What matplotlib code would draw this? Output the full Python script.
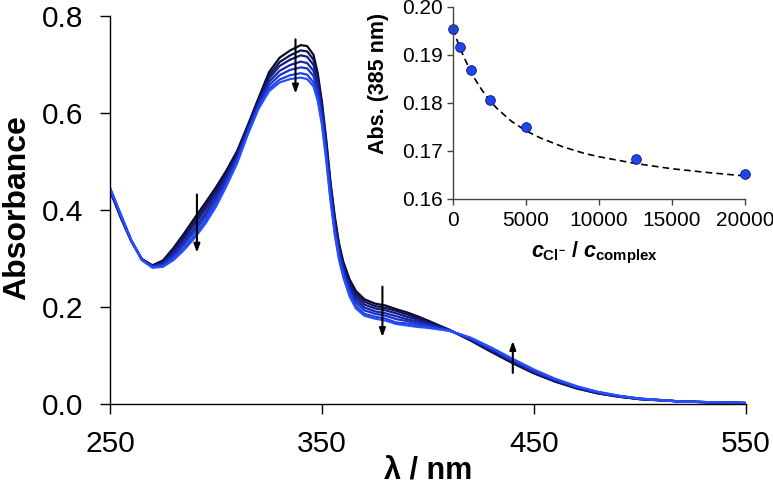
import matplotlib
matplotlib.use("Agg")
import matplotlib.pyplot as plt

plt.rcParams['font.family'] = ['Liberation Sans', 'DejaVu Sans']
plt.rcParams['mathtext.fontset'] = 'custom'
plt.rcParams['mathtext.rm'] = 'Liberation Sans:bold'
plt.rcParams['mathtext.it'] = 'Liberation Sans:bold:italic'
plt.rcParams['mathtext.bf'] = 'Liberation Sans:bold'

# ---------------- data ----------------
wavelength = [250, 255, 260, 265, 270, 275, 280, 285, 290, 295, 300, 305, 310, 315,
              320, 325, 330, 335, 340, 343, 346, 348, 350, 352, 354, 356, 358, 360,
              363, 366, 370, 375, 380, 385, 390, 395, 400, 410, 420, 430, 440, 450,
              460, 470, 480, 490, 500, 520, 550]

spec0 = [0.440, 0.385, 0.336, 0.299, 0.286, 0.296, 0.322, 0.352, 0.384, 0.415, 0.447, 0.482,
         0.522, 0.575, 0.630, 0.684, 0.714, 0.729, 0.740, 0.738, 0.720, 0.682, 0.622, 0.545,
         0.458, 0.388, 0.332, 0.294, 0.257, 0.233, 0.216, 0.207, 0.203, 0.1955, 0.189, 0.181,
         0.172, 0.153, 0.131, 0.107, 0.084, 0.063, 0.046, 0.032, 0.022, 0.015, 0.010, 0.005,
         0.002]
spec1 = [0.441, 0.386, 0.336, 0.299, 0.285, 0.294, 0.318, 0.347, 0.377, 0.408, 0.441, 0.477,
         0.518, 0.572, 0.626, 0.677, 0.705, 0.719, 0.729, 0.727, 0.710, 0.673, 0.614, 0.538,
         0.452, 0.382, 0.327, 0.289, 0.251, 0.227, 0.211, 0.202, 0.198, 0.192, 0.185, 0.177,
         0.170, 0.153, 0.132, 0.108, 0.085, 0.064, 0.047, 0.033, 0.022, 0.015, 0.010, 0.005,
         0.002]
spec2 = [0.442, 0.387, 0.337, 0.298, 0.284, 0.292, 0.314, 0.341, 0.371, 0.401, 0.434, 0.472,
         0.514, 0.569, 0.623, 0.671, 0.697, 0.710, 0.719, 0.716, 0.699, 0.664, 0.607, 0.531,
         0.446, 0.376, 0.321, 0.284, 0.246, 0.221, 0.205, 0.197, 0.193, 0.187, 0.180, 0.174,
         0.167, 0.152, 0.133, 0.110, 0.087, 0.066, 0.048, 0.034, 0.023, 0.016, 0.010, 0.005,
         0.002]
spec3 = [0.443, 0.389, 0.337, 0.298, 0.283, 0.289, 0.309, 0.335, 0.363, 0.393, 0.427, 0.466,
         0.509, 0.565, 0.619, 0.664, 0.687, 0.699, 0.706, 0.703, 0.687, 0.653, 0.598, 0.523,
         0.439, 0.369, 0.315, 0.278, 0.239, 0.215, 0.199, 0.191, 0.187, 0.181, 0.175, 0.170,
         0.164, 0.152, 0.134, 0.112, 0.089, 0.067, 0.049, 0.035, 0.024, 0.016, 0.011, 0.005,
         0.002]
spec4 = [0.444, 0.390, 0.337, 0.298, 0.283, 0.287, 0.305, 0.329, 0.356, 0.386, 0.420, 0.460,
         0.505, 0.562, 0.615, 0.657, 0.678, 0.689, 0.694, 0.692, 0.676, 0.643, 0.590, 0.516,
         0.432, 0.362, 0.309, 0.272, 0.233, 0.209, 0.193, 0.186, 0.182, 0.175, 0.171, 0.166,
         0.162, 0.152, 0.135, 0.113, 0.090, 0.068, 0.050, 0.035, 0.024, 0.016, 0.011, 0.005,
         0.002]
spec5 = [0.445, 0.391, 0.338, 0.297, 0.282, 0.285, 0.300, 0.322, 0.348, 0.378, 0.412, 0.454,
         0.500, 0.558, 0.611, 0.650, 0.669, 0.678, 0.682, 0.679, 0.663, 0.632, 0.581, 0.508,
         0.425, 0.355, 0.302, 0.266, 0.227, 0.202, 0.186, 0.180, 0.176, 0.168, 0.166, 0.162,
         0.159, 0.151, 0.136, 0.115, 0.092, 0.070, 0.051, 0.036, 0.025, 0.017, 0.011, 0.005,
         0.002]
spec6 = [0.446, 0.392, 0.338, 0.297, 0.281, 0.283, 0.297, 0.318, 0.343, 0.372, 0.407, 0.450,
         0.497, 0.556, 0.608, 0.645, 0.663, 0.670, 0.673, 0.670, 0.655, 0.625, 0.575, 0.502,
         0.420, 0.350, 0.298, 0.262, 0.222, 0.197, 0.182, 0.176, 0.172, 0.165, 0.162, 0.159,
         0.157, 0.151, 0.137, 0.116, 0.093, 0.071, 0.052, 0.037, 0.025, 0.017, 0.011, 0.005,
         0.002]
spectra = [spec0, spec1, spec2, spec3, spec4, spec5, spec6]
spec_colors = ['#0a0a26', '#0f1458', '#131d80', '#1727a6', '#1b33c8', '#1f40e6', '#2650ff']

ratio = [0, 500, 1250, 2500, 5000, 12500, 20000]
abs385 = [0.1954, 0.1917, 0.1869, 0.1806, 0.1751, 0.1684, 0.1652]

fit_x = [0, 250, 500, 1000, 1500, 2000, 2500, 3000, 4000, 5000, 6000, 7500, 9000, 10000,
         12500, 15000, 17500, 20000]
fit_y = [0.1955, 0.1933, 0.1913, 0.1879, 0.1850, 0.1826, 0.1806, 0.1789, 0.1762, 0.1742,
         0.1727, 0.1709, 0.1695, 0.1688, 0.1674, 0.1663, 0.1655, 0.1648]

main_xticks = [250, 350, 450, 550]
main_yticks = [0.0, 0.2, 0.4, 0.6, 0.8]
inset_xticks = [0, 5000, 10000, 15000, 20000]
inset_yticks = [0.16, 0.17, 0.18, 0.19, 0.20]

# arrows: (x, y_start, y_end)
arrows = [(291, 0.432, 0.312), (337.5, 0.752, 0.640), (378.5, 0.242, 0.138), (440, 0.064, 0.130)]

# ---------------- figure ----------------
fig = plt.figure(figsize=(7.73, 4.92), dpi=100)
ax = fig.add_axes([110/773, 88/492, 636/773, 388/492])

for s, c in zip(spectra, spec_colors):
    ax.plot(wavelength, s, color=c, lw=1.6, solid_joinstyle='round')

for x, y0, y1 in arrows:
    ax.annotate('', xy=(x, y1), xytext=(x, y0),
                arrowprops=dict(arrowstyle='-|>,head_length=0.5,head_width=0.18',
                                color='black', lw=1.5, shrinkA=0, shrinkB=0))

ax.set_xlim(250, 550)
ax.set_ylim(0, 0.8)
ax.set_xticks(main_xticks)
ax.set_yticks(main_yticks)
ax.set_yticklabels([f'{v:.1f}' for v in main_yticks])
for side in ('top', 'right'):
    ax.spines[side].set_visible(False)
for side in ('left', 'bottom'):
    ax.spines[side].set_linewidth(1.0)
ax.tick_params(direction='out', length=7, width=1.0, labelsize=21.5, pad=12)
ax.set_xlabel('λ / nm', fontsize=22, fontweight='bold')
ax.set_ylabel('Absorbance', fontsize=23, fontweight='bold')
ax.xaxis.set_label_coords(0.5, -0.135)
ax.yaxis.set_label_coords(-0.122, 0.507)

# inset
ins = fig.add_axes([453/773, 293/492, 292/773, 192/492])
ins.plot(fit_x, fit_y, color='black', lw=1.2, ls=(0, (4, 2.5)))
ins.plot(ratio, abs385, 'o', color='#2244ee', mec='#0a1a7a', mew=0.6, ms=7, clip_on=False)
ins.set_xlim(0, 20000)
ins.set_ylim(0.16, 0.20)
ins.set_xticks(inset_xticks)
ins.set_yticks(inset_yticks)
ins.set_yticklabels([f'{v:.2f}' for v in inset_yticks])
ins.patch.set_alpha(0)
for side in ('top', 'right'):
    ins.spines[side].set_visible(False)
for side in ('left', 'bottom'):
    ins.spines[side].set_color('#444444')
    ins.spines[side].set_linewidth(1.0)
ins.tick_params(direction='out', length=4, width=1.0, color='#444444', labelsize=15)
ins.tick_params(axis='x', pad=5)
ins.tick_params(axis='y', pad=3)
ins.set_xlabel(r'$c_{\mathrm{Cl}^{-}}$ / $c_{\mathrm{complex}}$', fontsize=15.5,
               fontweight='bold')
ins.set_ylabel('Abs. (385 nm)', fontsize=15.5, fontweight='bold')
ins.xaxis.set_label_coords(0.485, -0.215)
ins.yaxis.set_label_coords(-0.219, 0.604)

fig.savefig('out.png', dpi=100)
